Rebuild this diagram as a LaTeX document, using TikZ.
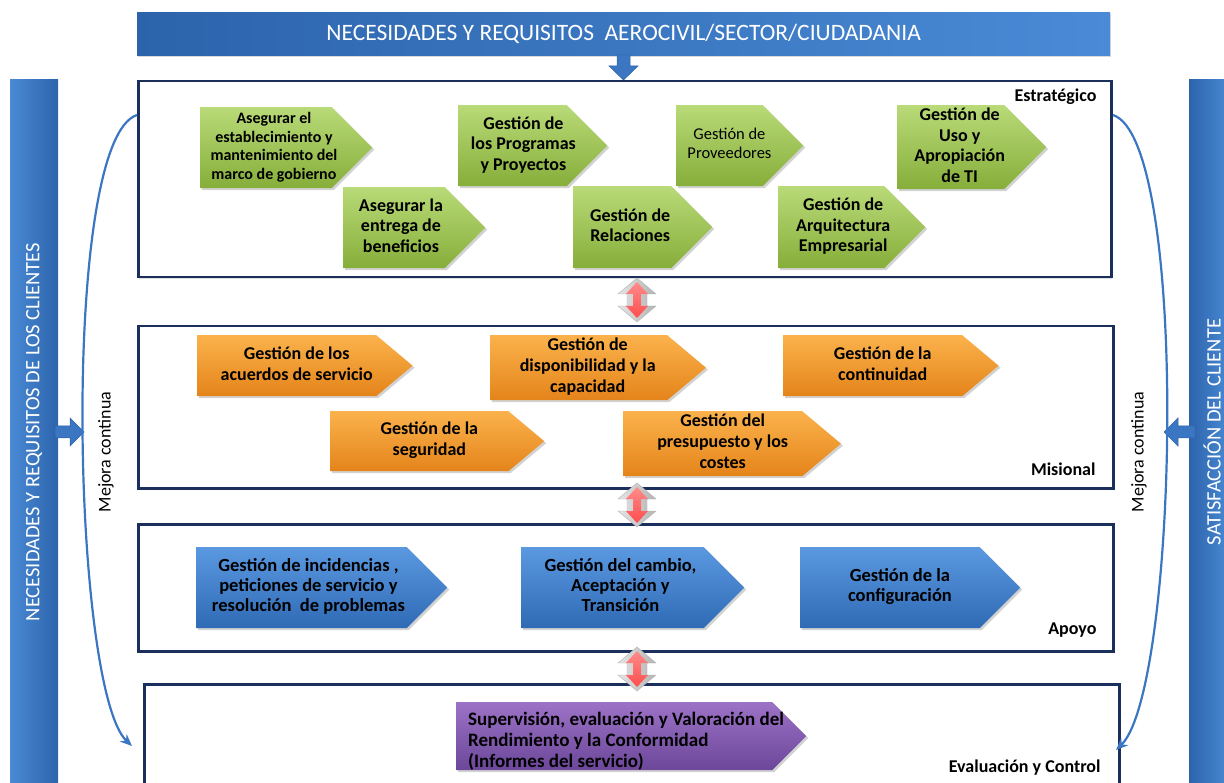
\documentclass[tikz,border=0pt]{standalone}
\usepackage{fontspec}
\setmainfont{Carlito}
\usetikzlibrary{shapes.symbols,shadows,arrows.meta}
\definecolor{gT}{HTML}{B9DA78}\definecolor{gB}{HTML}{86AE3A}
\definecolor{oT}{HTML}{FBB24C}\definecolor{oB}{HTML}{E4841A}
\definecolor{bT}{HTML}{5A98E0}\definecolor{bB}{HTML}{2F6BB5}
\definecolor{pT}{HTML}{9C72C6}\definecolor{pB}{HTML}{6C4799}
\definecolor{navy}{HTML}{1B2F5C}
\definecolor{barL}{HTML}{4A8AD6}\definecolor{barR}{HTML}{2C64AB}
\definecolor{curveC}{HTML}{3B76C2}
\newcommand\chevtext[3]{\makebox[#1pt][c]{\hspace*{#2pt}\begin{tabular}{@{}c@{}}#3\end{tabular}}}
\newcommand\chevltext[3]{\makebox[#1pt][l]{\hspace*{#2pt}\raisebox{-10pt}[0pt][0pt]{\begin{tabular}{@{}l@{}}#3\end{tabular}}}}
\begin{document}
\begin{tikzpicture}[x=1pt,y=-1pt,
  chev/.style={shape=signal, signal to=east, signal from=nowhere, signal pointer angle=90,
    draw=none, anchor=north west, inner sep=1pt,
    drop shadow={opacity=0.35,shadow xshift=2pt,shadow yshift=-2pt},
    font=\bfseries\fontsize{18}{20.5}\selectfont},
  gch/.style={chev, top color=gT, bottom color=gB},
  och/.style={chev, top color=oT, bottom color=oB, signal pointer angle=80, font=\bfseries\fontsize{18}{21}\selectfont},
  bch/.style={chev, top color=bT, bottom color=bB, font=\bfseries\fontsize{18.5}{20}\selectfont},
  pch/.style={chev, top color=pT, bottom color=pB, font=\bfseries\fontsize{19}{21}\selectfont},
  secbox/.style={draw=navy, line width=2.5pt, fill=white, drop shadow={opacity=0.25,shadow xshift=1pt,shadow yshift=-2pt}},
  seclabel/.style={font=\bfseries\fontsize{18}{20}\selectfont, anchor=east},
  mc/.style={draw=curveC, line width=2.2pt, -{Stealth[length=12pt,width=10pt]}},
  mctext/.style={font=\fontsize{18}{20}\selectfont, rotate=90, fill=white, inner sep=2pt},
  bartext/.style={font=\fontsize{20.5}{22}\selectfont, text=white, rotate=90},
  blk/.style={fill=curveC, draw=barR, line width=0.5pt},
  dbl/.pic={
    \shade[left color=gray!20, right color=gray!60, draw=gray!60]
      (0,-22) -- (19,-6) -- (10,-6) -- (10,6) -- (19,6) -- (0,22) -- (-19,6) -- (-10,6) -- (-10,-6) -- (-19,-6) -- cycle;
    \shade[top color=red!45, bottom color=red!70]
      (0,-18) -- (11,-6) -- (4,-6) -- (4,6) -- (11,6) -- (0,18) -- (-11,6) -- (-4,6) -- (-4,-6) -- (-11,-6) -- cycle;
  }]
\useasboundingbox (0,0) rectangle (1224,783);

% side bars
\path[left color=barL, right color=barR] (10,80) rectangle (58,790);
\node[bartext] (lbar) at (34,432) {NECESIDADES Y REQUISITOS DE LOS CLIENTES};
\path[left color=barR, right color=barL] (1189,80) rectangle (1230,790);
\node[bartext] (rbar) at (1212,432) {SATISFACCIÓN DEL CLIENTE};

% top banner
\node[minimum width=973pt, minimum height=43pt, anchor=north west, left color=barR, right color=barL,
  drop shadow={opacity=0.3,shadow xshift=1pt,shadow yshift=-2pt},
  text=white, font=\fontsize{23.5}{25}\selectfont, inner sep=0pt] (banner) at (137,12)
  {NECESIDADES Y REQUISITOS\ \ AEROCIVIL/SECTOR/CIUDADANIA};

% top small arrow
\path[blk] (617,55) -- (630,55) -- (630,66) -- (638,66) -- (623.5,80) -- (609,66) -- (617,66) -- cycle;

% section boxes
\node[secbox, minimum width=973pt, minimum height=196pt, anchor=north west] (est) at (137,80) {};
\node[secbox, minimum width=975pt, minimum height=162pt, anchor=north west] (mis) at (137,325) {};
\node[secbox, minimum width=975pt, minimum height=127pt, anchor=north west] (apo) at (137,523) {};
\node[secbox, minimum width=975pt, minimum height=130pt, anchor=north west] (eva) at (143,683) {};

\node[seclabel] (lest) at (1100,97) {Estratégico};
\node[seclabel] (lmis) at (1099,469) {Misional};
\node[seclabel] (lapo) at (1100,630) {Apoyo};
\node[seclabel] (leva) at (1104,768) {Evaluación y Control};

% double arrows between sections
\pic at (637,300) {dbl};
\pic at (637,505) {dbl};
\pic at (637,669) {dbl};

% side arrows
\path[blk] (55,426) -- (70,426) -- (70,418) -- (84,432) -- (70,446) -- (70,438) -- (55,438) -- cycle;
\path[blk] (1195,426) -- (1178,426) -- (1178,418) -- (1164,432) -- (1178,446) -- (1178,438) -- (1195,438) -- cycle;

% mejora continua curves
\coordinate (l1) at (137,115);
\coordinate (l2) at (132,746);
\coordinate (r1) at (1113,115);
\coordinate (r2) at (1116,750);
\draw[mc] (l1) .. controls (60,140) and (72,690) .. (l2);
\draw[mc] (r1) .. controls (1190,140) and (1178,690) .. (r2);
\node[mctext] (mcl) at (106,452) {Mejora continua};
\node[mctext] (mcr) at (1139,452) {Mejora continua};

% Estrategico
\node[gch, minimum width=172pt, minimum height=81pt, font=\bfseries\fontsize{16}{18.5}\selectfont] (g1) at (200,107)
  {\chevtext{129}{16}{Asegurar el\\ establecimiento y\\ mantenimiento del\\ marco de gobierno}};
\node[gch, minimum width=142pt, minimum height=81pt] (g2) at (343,187)
  {\chevtext{99}{14}{Asegurar la\\ entrega de\\ beneficios}};
\node[gch, minimum width=149pt, minimum height=81pt] (g3) at (458,105)
  {\chevtext{106}{22}{Gestión de\\ los Programas\\ y Proyectos}};
\node[gch, minimum width=139pt, minimum height=82pt] (g4) at (573,186)
  {\chevtext{96}{16}{Gestión de\\ Relaciones}};
\node[gch, minimum width=127pt, minimum height=81pt, font=\fontsize{16.5}{19}\selectfont] (g5) at (676,105)
  {\chevtext{84}{20}{Gestión de\\ Proveedores}};
\node[gch, minimum width=147pt, minimum height=82pt] (g6) at (778,186)
  {\chevtext{104}{24}{Gestión de\\ Arquitectura\\ Empresarial}};
\node[gch, minimum width=148pt, minimum height=81pt] (g7) at (897,105)
  {\chevtext{105}{18}{Gestión de\\ Uso y\\ Apropiación\\ de TI}};

% Misional
\node[och, minimum width=215pt, minimum height=61pt] (o1) at (197,335)
  {\chevtext{177}{20}{Gestión de los\\ acuerdos de servicio}};
\node[och, minimum width=213pt, minimum height=61pt] (o2) at (490,335)
  {\chevtext{175}{18}{Gestión de\\ disponibilidad y la\\ capacidad}};
\node[och, minimum width=215pt, minimum height=61pt] (o3) at (783,335)
  {\chevtext{177}{20}{Gestión de la\\ continuidad}};
\node[och, minimum width=214pt, minimum height=60pt] (o4) at (330,411)
  {\chevtext{176}{20}{Gestión de la\\ seguridad}};
\node[och, minimum width=215pt, minimum height=60pt] (o5) at (623,411)
  {\chevtext{177}{20}{Gestión del\\ presupuesto y los\\ costes}};

% Apoyo
\node[bch, minimum width=251pt, minimum height=81pt] (b1) at (196,547)
  {\chevtext{208}{14}{Gestión de incidencias ,\\ peticiones de servicio y\\ resolución\ \ de problemas}};
\node[bch, minimum width=223pt, minimum height=81pt] (b2) at (521,547)
  {\chevtext{180}{16}{Gestión del cambio,\\ Aceptación y\\ Transición}};
\node[bch, minimum width=220pt, minimum height=81pt] (b3) at (800,547)
  {\chevtext{177}{20}{Gestión de la\\ configuración}};

% Evaluacion
\node[pch, minimum width=350pt, minimum height=68pt] (p1) at (456,702)
  {\chevltext{314}{11}{Supervisión, evaluación y Valoración del\\ Rendimiento y la Conformidad\\ (Informes del servicio)}};
\end{tikzpicture}
\end{document}
